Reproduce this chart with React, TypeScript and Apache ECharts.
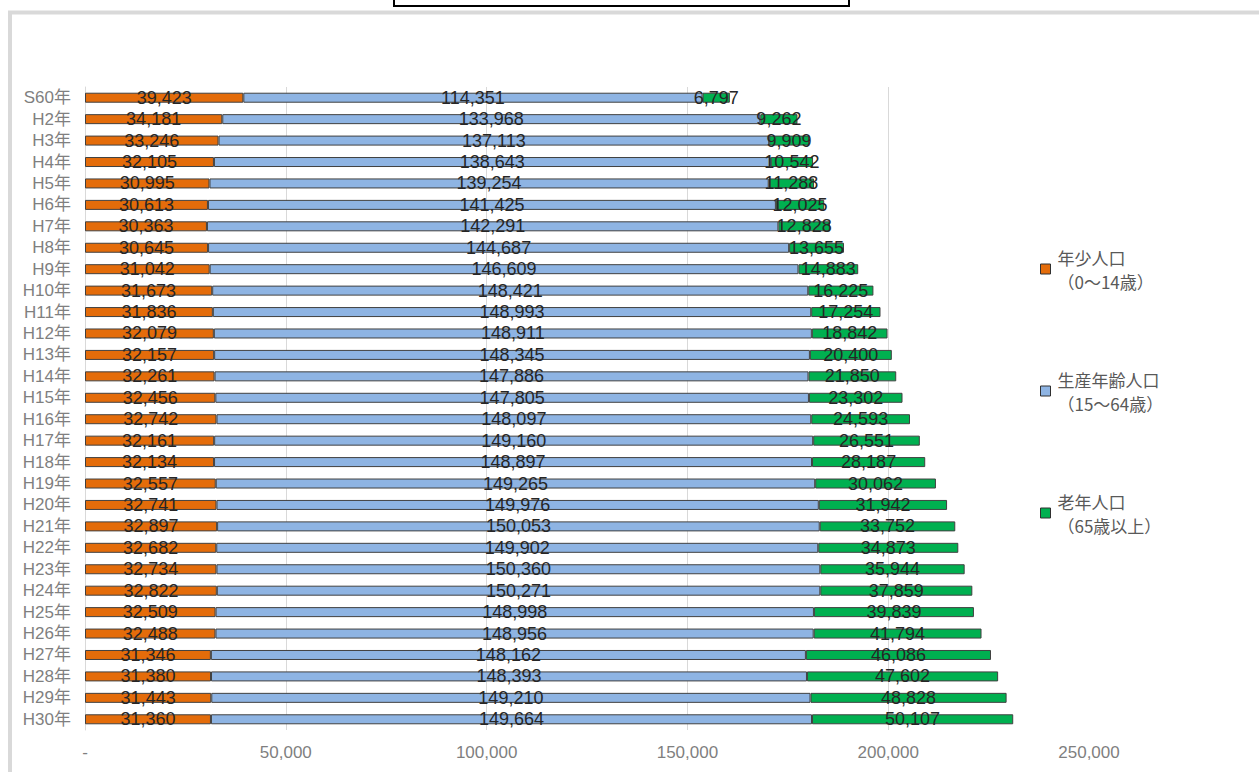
import React, { useEffect, useRef } from "react";
import * as echarts from "echarts";

const categories = [
  "S60年", "H2年", "H3年", "H4年", "H5年", "H6年", "H7年", "H8年", "H9年", "H10年",
  "H11年", "H12年", "H13年", "H14年", "H15年", "H16年", "H17年", "H18年", "H19年", "H20年",
  "H21年", "H22年", "H23年", "H24年", "H25年", "H26年", "H27年", "H28年", "H29年", "H30年",
];

const youth = [
  39423, 34181, 33246, 32105, 30995, 30613, 30363, 30645, 31042, 31673,
  31836, 32079, 32157, 32261, 32456, 32742, 32161, 32134, 32557, 32741,
  32897, 32682, 32734, 32822, 32509, 32488, 31346, 31380, 31443, 31360,
];

const working = [
  114351, 133968, 137113, 138643, 139254, 141425, 142291, 144687, 146609, 148421,
  148993, 148911, 148345, 147886, 147805, 148097, 149160, 148897, 149265, 149976,
  150053, 149902, 150360, 150271, 148998, 148956, 148162, 148393, 149210, 149664,
];

const elderly = [
  6797, 9262, 9909, 10542, 11288, 12025, 12828, 13655, 14883, 16225,
  17254, 18842, 20400, 21850, 23302, 24593, 26551, 28187, 30062, 31942,
  33752, 34873, 35944, 37859, 39839, 41794, 46086, 47602, 48828, 50107,
];

const seriesNames = ["年少人口\n（0～14歳）", "生産年齢人口\n（15～64歳）", "老年人口\n（65歳以上）"];
const seriesColors = ["#E46C0A", "#8EB4E3", "#00B050"];

const fmt = (v: number) => (v === 0 ? "-" : v.toLocaleString("en-US"));

export default function App() {
  const ref = useRef<HTMLDivElement>(null);
  useEffect(() => {
    if (!ref.current) return;
    const chart = echarts.init(ref.current, null, { renderer: "svg" });
    const datasets = [youth, working, elderly];
    chart.setOption({
      animation: false,
      backgroundColor: "#ffffff",
      graphic: [
        {
          type: "rect",
          shape: { x: 10, y: 12.5, width: 1300, height: 800 },
          style: { fill: "none", stroke: "#d9d9d9", lineWidth: 4 },
          silent: true,
        },
        {
          type: "rect",
          shape: { x: 394, y: -10, width: 455, height: 16 },
          style: { fill: "#ffffff", stroke: "#000000", lineWidth: 2 },
          silent: true,
        },
      ],
      grid: { left: 85, top: 87, width: 1004, height: 643, containLabel: false },
      legend: {
        orient: "vertical",
        left: 1040,
        top: 233,
        padding: 0,
        itemGap: 50,
        itemWidth: 10,
        itemHeight: 10,
        icon: "rect",
        selectedMode: false,
        itemStyle: { borderColor: "#303030", borderWidth: 1 },
        textStyle: {
          color: "#595959",
          fontSize: 17,
          fontFamily: "'Noto Sans CJK JP', 'Liberation Sans', sans-serif",
          lineHeight: 24,
          padding: [24, 0, 0, 2],
        },
        data: seriesNames,
      },
      xAxis: {
        type: "value",
        min: 0,
        max: 250000,
        interval: 50000,
        axisLine: { show: false },
        axisTick: { show: false },
        axisLabel: {
          color: "#7f7f7f",
          fontSize: 17,
          fontFamily: "'Liberation Sans', sans-serif",
          margin: 14,
          formatter: (v: number) => fmt(v),
        },
        splitLine: {
          show: true,
          lineStyle: {
            color: ["#d9d9d9", "#d9d9d9", "#d9d9d9", "#d9d9d9", "#d9d9d9", "rgba(0,0,0,0)"],
            width: 1,
          },
        },
      },
      yAxis: {
        type: "category",
        inverse: true,
        data: categories,
        axisLine: { show: true, lineStyle: { color: "#d9d9d9", width: 1 } },
        axisTick: { show: false },
        axisLabel: {
          interval: 0,
          color: "#7f7f7f",
          fontSize: 17,
          fontFamily: "'Liberation Sans', 'Noto Sans CJK JP', sans-serif",
          margin: 14,
        },
      },
      series: datasets.map((d, i) => ({
        name: seriesNames[i],
        type: "bar",
        stack: "total",
        barWidth: 10,
        data: d,
        itemStyle: { color: seriesColors[i], borderColor: "#404040", borderWidth: 1 },
        label: {
          show: true,
          position: "inside",
          color: "#262626",
          fontSize: 18,
          fontFamily: "'Liberation Sans', sans-serif",
          textBorderWidth: 0,
          formatter: (p: any) => fmt(p.value as number),
        },
      })),
    });
    return () => chart.dispose();
  }, []);
  return (
    <div
      ref={ref}
      style={{ position: "absolute", left: 0, top: 0, width: 1259, height: 772 }}
    />
  );
}
